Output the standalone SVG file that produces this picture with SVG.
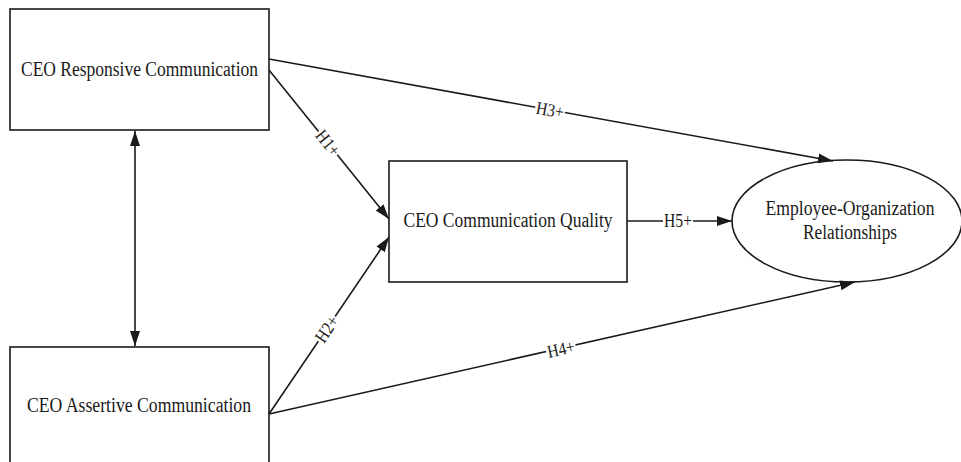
<svg xmlns="http://www.w3.org/2000/svg" width="961" height="462" viewBox="0 0 961 462">
<style>
.node{fill:#fff;stroke:#1a1a1a;stroke-width:1.6}
.t{font-family:"Liberation Serif","Times New Roman",serif;font-size:20px;fill:#1a1a1a;text-anchor:middle}
.lbl{font-family:"Liberation Serif","Times New Roman",serif;font-size:18px;fill:#1a1a1a;text-anchor:middle}
.edge{stroke:#1a1a1a;stroke-width:1.6;fill:none}
.bg{fill:#fff}
</style>
<defs>
<marker id="ah" markerUnits="userSpaceOnUse" markerWidth="16" markerHeight="11" refX="15" refY="5" orient="auto-start-reverse" viewBox="0 0 16 11">
<path d="M0,0 L15,5 L0,10 z" fill="#1a1a1a"/>
</marker>
</defs>
<rect width="961" height="462" fill="#fff"/>
<g id="n-responsive">
<rect class="node" x="10" y="9" width="259" height="121"/>
<text class="t" x="139.5" y="76" textLength="237" lengthAdjust="spacingAndGlyphs">CEO Responsive Communication</text>
</g>
<g id="n-assertive">
<rect class="node" x="10" y="347" width="259" height="125"/>
<text class="t" x="139" y="412" textLength="224" lengthAdjust="spacingAndGlyphs">CEO Assertive Communication</text>
</g>
<g id="n-quality">
<rect class="node" x="389" y="161" width="238" height="121"/>
<text class="t" x="508" y="227" textLength="209" lengthAdjust="spacingAndGlyphs">CEO Communication Quality</text>
</g>
<g id="n-eor">
<ellipse class="node" cx="847" cy="221" rx="115" ry="61"/>
<text class="t" x="850" y="215" textLength="169" lengthAdjust="spacingAndGlyphs">Employee-Organization</text>
<text class="t" x="850" y="239" textLength="94" lengthAdjust="spacingAndGlyphs">Relationships</text>
</g>
<g id="connectors">
<line class="edge" x1="135" y1="131" x2="135" y2="346" marker-start="url(#ah)" marker-end="url(#ah)"/>
<line class="edge" x1="269" y1="70" x2="389" y2="219" marker-end="url(#ah)"/>
<line class="edge" x1="269" y1="414" x2="389" y2="237" marker-end="url(#ah)"/>
<line class="edge" x1="269" y1="59" x2="833" y2="161" marker-end="url(#ah)"/>
<line class="edge" x1="269" y1="414" x2="855" y2="282" marker-end="url(#ah)"/>
<line class="edge" x1="627" y1="221" x2="732" y2="221" marker-end="url(#ah)"/>
<g transform="translate(328,143) rotate(51.2)"><rect class="bg" x="-15" y="-7" width="30" height="14"/><text class="lbl" y="6" textLength="28" lengthAdjust="spacingAndGlyphs">H1+</text></g>
<g transform="translate(327,329) rotate(-55.9)"><rect class="bg" x="-15" y="-7" width="30" height="14"/><text class="lbl" y="6" textLength="28" lengthAdjust="spacingAndGlyphs">H2+</text></g>
<g transform="translate(550,110) rotate(10.25)"><rect class="bg" x="-15" y="-7" width="30" height="14"/><text class="lbl" y="6" textLength="28" lengthAdjust="spacingAndGlyphs">H3+</text></g>
<g transform="translate(561,349) rotate(-12.7)"><rect class="bg" x="-15" y="-7" width="30" height="14"/><text class="lbl" y="6" textLength="28" lengthAdjust="spacingAndGlyphs">H4+</text></g>
<g transform="translate(678,221)"><rect class="bg" x="-15" y="-7" width="30" height="14"/><text class="lbl" y="6" textLength="28" lengthAdjust="spacingAndGlyphs">H5+</text></g>
</g>
</svg>
